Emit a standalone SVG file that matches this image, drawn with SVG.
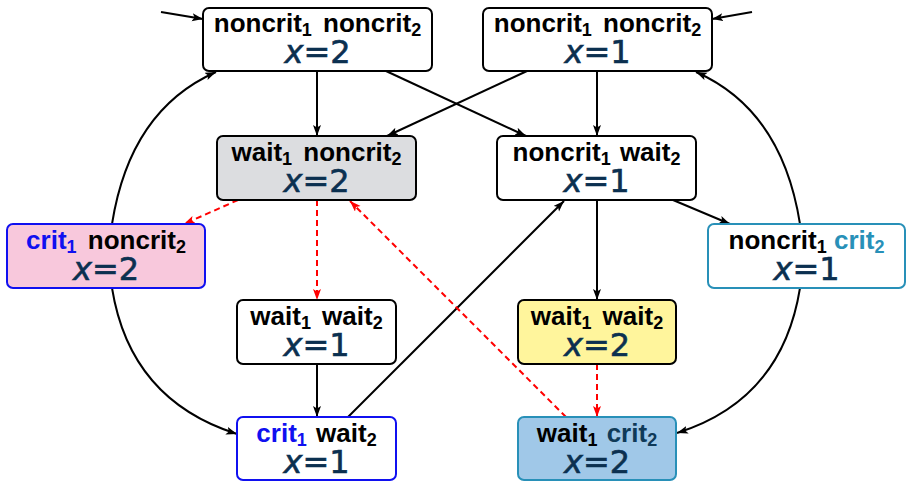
<svg xmlns="http://www.w3.org/2000/svg" width="906" height="481" viewBox="0 0 906 481">
<style>
.box{stroke:#000;stroke-width:2}
.lbl{font-family:"Liberation Sans",Arial,sans-serif;font-weight:bold;font-size:26px;fill:#000;text-anchor:middle}
.sub{font-size:18px}
.math{font-family:"DejaVu Sans","Liberation Sans",sans-serif;font-size:32px;fill:#0b3050;text-anchor:middle;stroke:#0b3050;stroke-width:0.6}
.it{font-style:italic}
.blue{fill:#1010f0}
.teal{fill:#2890b8}
.navy{fill:#0f3a58}
.edge{fill:none;stroke:#000;stroke-width:2}
.red{fill:none;stroke:#ff0000;stroke-width:2;stroke-dasharray:6 4}
</style>
<defs>
<marker id="ab" markerUnits="userSpaceOnUse" markerWidth="12" markerHeight="10" refX="11" refY="4" orient="auto">
<path d="M0,0 L11,4 L0,8 L2.5,4 Z" fill="#000"/>
</marker>
<marker id="ar" markerUnits="userSpaceOnUse" markerWidth="12" markerHeight="10" refX="11" refY="4" orient="auto">
<path d="M0,0 L11,4 L0,8 L2.5,4 Z" fill="#ff0000"/>
</marker>
</defs>

<g id="connectors">
<path class="edge" d="M161,12 L203,19" marker-end="url(#ab)"/>
<path class="edge" d="M752,12 L712,19" marker-end="url(#ab)"/>
<path class="edge" d="M317,71 L317,136" marker-end="url(#ab)"/>
<path class="edge" d="M386,71 L526,136" marker-end="url(#ab)"/>
<path class="edge" d="M527,71 L387,136" marker-end="url(#ab)"/>
<path class="edge" d="M597,71 L597,136" marker-end="url(#ab)"/>
<path class="edge" d="M673,200 L730,224" marker-end="url(#ab)"/>
<path class="edge" d="M597,200 L597,300" marker-end="url(#ab)"/>
<path class="edge" d="M348,417 L564,201" marker-end="url(#ab)"/>
<path class="edge" d="M317,364 L317,417" marker-end="url(#ab)"/>
<path class="edge" d="M112,224 Q130,110 216,72" marker-end="url(#ab)"/>
<path class="edge" d="M112,288 Q130,400 237,434" marker-end="url(#ab)"/>
<path class="edge" d="M800,224 Q782,110 696,72" marker-end="url(#ab)"/>
<path class="edge" d="M800,288 Q782,400 677,433" marker-end="url(#ab)"/>
<path class="red" d="M238,200 L184,224" marker-end="url(#ar)"/>
<path class="red" d="M317,200 L317,300" marker-end="url(#ar)"/>
<path class="red" d="M566,417 L350,201" marker-end="url(#ar)"/>
<path class="red" d="M597,364 L597,417" marker-end="url(#ar)"/>
</g>

<g id="n1">
<rect class="box" x="203" y="8" width="229" height="63" rx="6" fill="#fff"/>
<text class="lbl" x="317.5" y="32">noncrit<tspan class="sub" dy="4">1</tspan><tspan dy="-4" dx="4"> noncrit</tspan><tspan class="sub" dy="4">2</tspan></text>
<text class="math" x="317.5" y="63"><tspan class="it">x</tspan>=2</text>
</g>
<g id="n2">
<rect class="box" x="483" y="8" width="229" height="63" rx="6" fill="#fff"/>
<text class="lbl" x="597.5" y="32">noncrit<tspan class="sub" dy="4">1</tspan><tspan dy="-4" dx="4"> noncrit</tspan><tspan class="sub" dy="4">2</tspan></text>
<text class="math" x="597.5" y="63"><tspan class="it">x</tspan>=1</text>
</g>
<g id="n3">
<rect class="box" x="217" y="136" width="199" height="64" rx="6" fill="#dcdde0"/>
<text class="lbl" x="316.5" y="161">wait<tspan class="sub" dy="4">1</tspan><tspan dy="-4" dx="4"> noncrit</tspan><tspan class="sub" dy="4">2</tspan></text>
<text class="math" x="316.5" y="192"><tspan class="it">x</tspan>=2</text>
</g>
<g id="n4">
<rect class="box" x="497" y="136" width="199" height="64" rx="6" fill="#fff"/>
<text class="lbl" x="596.5" y="161">noncrit<tspan class="sub" dy="4">1</tspan><tspan dy="-4" dx="2"> wait</tspan><tspan class="sub" dy="4">2</tspan></text>
<text class="math" x="596.5" y="192"><tspan class="it">x</tspan>=1</text>
</g>
<g id="n5">
<rect x="7" y="224" width="198" height="64" rx="6" fill="#f8c8dc" stroke="#1010f0" stroke-width="2"/>
<text class="lbl" x="106" y="249"><tspan class="blue">crit</tspan><tspan class="sub blue" dy="4">1</tspan><tspan dy="-4" dx="4"> noncrit</tspan><tspan class="sub" dy="4">2</tspan></text>
<text class="math" x="106" y="280"><tspan class="it">x</tspan>=2</text>
</g>
<g id="n6">
<rect x="708" y="224" width="197" height="64" rx="6" fill="#fff" stroke="#2890b8" stroke-width="2"/>
<text class="lbl" x="806.5" y="249">noncrit<tspan class="sub" dy="4">1</tspan><tspan class="teal" dy="-4"> crit</tspan><tspan class="sub teal" dy="4">2</tspan></text>
<text class="math" x="806.5" y="280"><tspan class="it">x</tspan>=1</text>
</g>
<g id="n7">
<rect class="box" x="237" y="300" width="159" height="64" rx="6" fill="#fff"/>
<text class="lbl" x="316.5" y="325">wait<tspan class="sub" dy="4">1</tspan><tspan dy="-4" dx="4"> wait</tspan><tspan class="sub" dy="4">2</tspan></text>
<text class="math" x="316.5" y="356"><tspan class="it">x</tspan>=1</text>
</g>
<g id="n8">
<rect class="box" x="518" y="300" width="158" height="64" rx="6" fill="#fff59c"/>
<text class="lbl" x="597" y="325">wait<tspan class="sub" dy="4">1</tspan><tspan dy="-4" dx="4"> wait</tspan><tspan class="sub" dy="4">2</tspan></text>
<text class="math" x="597" y="356"><tspan class="it">x</tspan>=2</text>
</g>
<g id="n9">
<rect x="237" y="417" width="159" height="63" rx="6" fill="#fff" stroke="#1010f0" stroke-width="2"/>
<text class="lbl" x="316.5" y="442"><tspan class="blue">crit</tspan><tspan class="sub blue" dy="4">1</tspan><tspan dy="-4" dx="2"> wait</tspan><tspan class="sub" dy="4">2</tspan></text>
<text class="math" x="316.5" y="473"><tspan class="it">x</tspan>=1</text>
</g>
<g id="n10">
<rect x="518" y="417" width="158" height="63" rx="6" fill="#a0c8e8" stroke="#2890b8" stroke-width="2"/>
<text class="lbl" x="597" y="442">wait<tspan class="sub" dy="4">1</tspan><tspan class="navy" dy="-4" dx="2"> crit</tspan><tspan class="sub navy" dy="4">2</tspan></text>
<text class="math" x="597" y="473"><tspan class="it">x</tspan>=2</text>
</g>
</svg>
